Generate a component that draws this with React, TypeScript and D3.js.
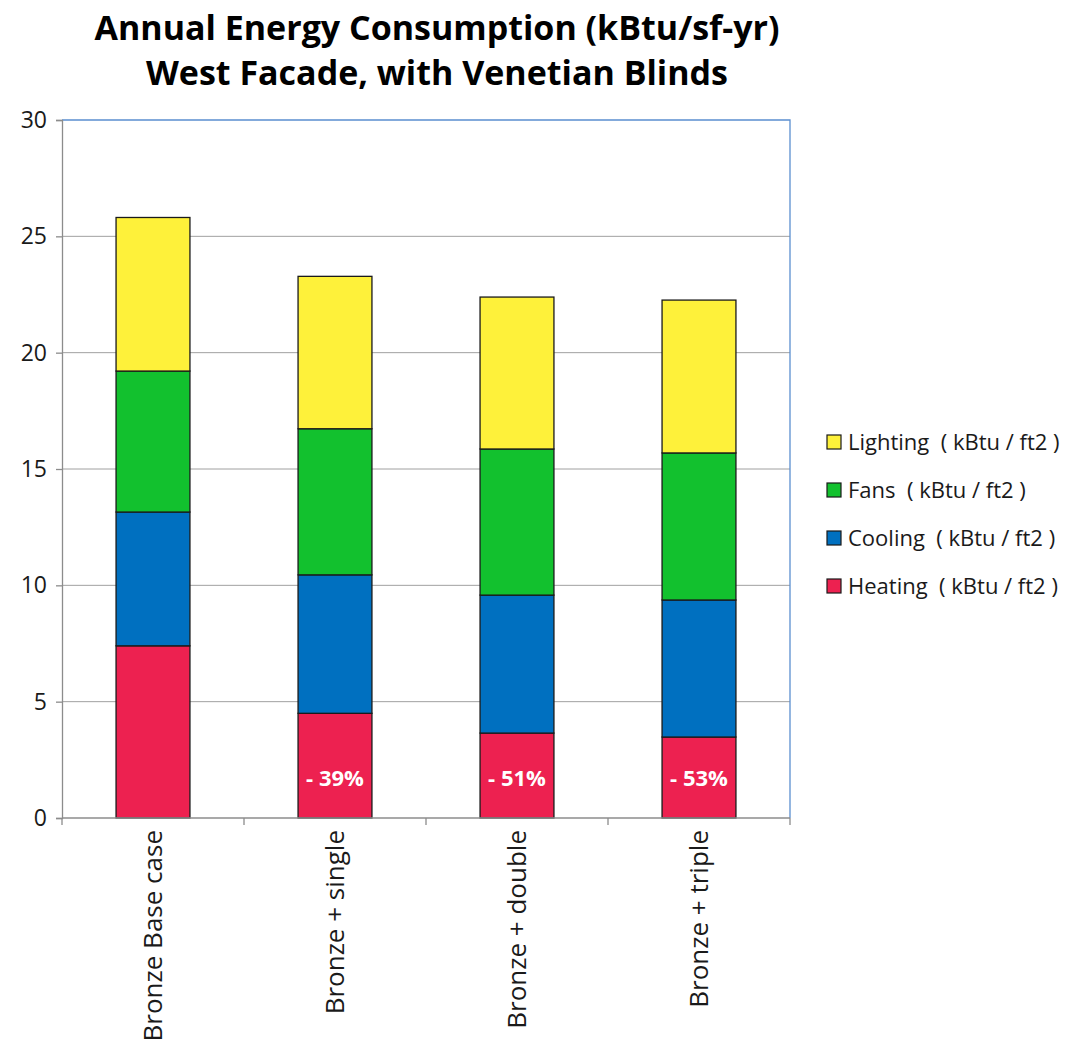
import { useEffect, useRef } from "react";
import * as d3 from "d3";

const categories = ["Bronze Base case", "Bronze + single", "Bronze + double", "Bronze + triple"];
const heating = [7.4, 4.5, 3.65, 3.48];
const cooling = [5.75, 5.95, 5.93, 5.89];
const fans = [6.06, 6.28, 6.28, 6.32];
const lighting = [6.6, 6.55, 6.53, 6.57];
const reductionLabels = ["", "- 39%", "- 51%", "- 53%"];
const yTicks = [0, 5, 10, 15, 20, 25, 30];

const seriesNames = [
  "Heating  ( kBtu / ft2 )",
  "Cooling  ( kBtu / ft2 )",
  "Fans  ( kBtu / ft2 )",
  "Lighting  ( kBtu / ft2 )",
];
const seriesColors = ["#ed2150", "#0070c0", "#12c12e", "#fef13a"];

export default function App() {
  const svgRef = useRef<SVGSVGElement | null>(null);

  useEffect(() => {
    if (!svgRef.current) return;
    const width = 1080;
    const height = 1040;
    const margin = { top: 120, right: 290, bottom: 222, left: 62 };
    const font = "Open Sans, Liberation Sans, sans-serif";

    const svg = d3.select(svgRef.current);
    svg.selectAll("*").remove();

    const rows = categories.map((c, i) => ({
      cat: c,
      s0: heating[i],
      s1: cooling[i],
      s2: fans[i],
      s3: lighting[i],
    }));
    const keys = ["s0", "s1", "s2", "s3"];
    const stacked = d3.stack<any>().keys(keys)(rows);

    const x = d3
      .scaleBand()
      .domain(categories)
      .range([margin.left, width - margin.right])
      .paddingInner(0.594)
      .paddingOuter(0.297);

    const y = d3
      .scaleLinear()
      .domain([0, 30])
      .range([height - margin.bottom, margin.top]);

    // gridlines
    svg
      .append("g")
      .selectAll("line")
      .data(yTicks.filter((t) => t > 0 && t < 30))
      .join("line")
      .attr("x1", margin.left)
      .attr("x2", width - margin.right)
      .attr("y1", (d) => y(d))
      .attr("y2", (d) => y(d))
      .attr("stroke", "#a0a0a0")
      .attr("stroke-width", 1);

    // top and right border
    svg
      .append("path")
      .attr("d", `M${margin.left},${y(30)}H${width - margin.right}V${y(0)}`)
      .attr("fill", "none")
      .attr("stroke", "#5b8fd0")
      .attr("stroke-width", 1.3);

    // bars
    svg
      .append("g")
      .selectAll("g")
      .data(stacked)
      .join("g")
      .attr("fill", (_, i) => seriesColors[i])
      .selectAll("rect")
      .data((d) => d)
      .join("rect")
      .attr("x", (d) => x(d.data.cat)!)
      .attr("width", x.bandwidth())
      .attr("y", (d) => y(d[1]))
      .attr("height", (d) => y(d[0]) - y(d[1]))
      .attr("stroke", "#1a1a1a")
      .attr("stroke-width", 1.3);

    // y axis
    const yAxis = svg
      .append("g")
      .attr("transform", `translate(${margin.left},0)`)
      .call(d3.axisLeft(y).tickValues(yTicks).tickSize(6).tickPadding(9));
    yAxis.select(".domain").attr("stroke", "#8c8c8c").attr("stroke-width", 1.3);
    yAxis.selectAll(".tick line").attr("stroke", "#8c8c8c").attr("stroke-width", 1.3);
    yAxis
      .selectAll("text")
      .attr("font-family", font)
      .attr("font-size", 23)
      .attr("fill", "#1a1a1a");

    // x axis
    const step = x.step();
    const boundaries = d3.range(categories.length + 1).map((i) => margin.left + i * step);
    const xAxis = svg.append("g");
    xAxis
      .append("line")
      .attr("x1", margin.left)
      .attr("x2", width - margin.right)
      .attr("y1", y(0))
      .attr("y2", y(0))
      .attr("stroke", "#8c8c8c")
      .attr("stroke-width", 1.3);
    xAxis
      .selectAll("line.tick")
      .data(boundaries)
      .join("line")
      .attr("class", "tick")
      .attr("x1", (d) => d)
      .attr("x2", (d) => d)
      .attr("y1", y(0))
      .attr("y2", y(0) + 7)
      .attr("stroke", "#8c8c8c")
      .attr("stroke-width", 1.3);
    xAxis
      .selectAll("text")
      .data(categories)
      .join("text")
      .attr(
        "transform",
        (d) => `translate(${x(d)! + x.bandwidth() / 2 + 9},${y(0) + 12}) rotate(-90)`
      )
      .attr("text-anchor", "end")
      .attr("font-family", font)
      .attr("font-size", 26)
      .attr("fill", "#1a1a1a")
      .text((d) => d);

    // reduction labels
    svg
      .append("g")
      .selectAll("text")
      .data(categories)
      .join("text")
      .attr("x", (d) => x(d)! + x.bandwidth() / 2)
      .attr("y", y(1.7))
      .attr("dy", "0.35em")
      .attr("text-anchor", "middle")
      .attr("font-family", font)
      .attr("font-weight", "bold")
      .attr("font-size", 22)
      .attr("fill", "#ffffff")
      .text((_, i) => reductionLabels[i]);

    // title
    const titleLines = ["Annual Energy Consumption (kBtu/sf-yr)", "West Facade, with Venetian Blinds"];
    svg
      .append("g")
      .selectAll("text")
      .data(titleLines)
      .join("text")
      .attr("x", 437)
      .attr("y", (_, i) => 40 + i * 45)
      .attr("text-anchor", "middle")
      .attr("font-family", font)
      .attr("font-weight", "bold")
      .attr("font-size", 34)
      .attr("fill", "#000")
      .text((d) => d);

    // legend
    const legendOrder = [3, 2, 1, 0];
    const legend = svg.append("g").attr("transform", "translate(827,442)");
    legendOrder.forEach((si, i) => {
      const row = legend.append("g").attr("transform", `translate(0,${i * 48})`);
      row
        .append("rect")
        .attr("x", 0)
        .attr("y", -7)
        .attr("width", 14)
        .attr("height", 14)
        .attr("fill", seriesColors[si])
        .attr("stroke", "#1a1a1a")
        .attr("stroke-width", 1.2);
      row
        .append("text")
        .attr("x", 21)
        .attr("y", 0)
        .attr("dy", "0.35em")
        .attr("font-family", font)
        .attr("font-size", 22)
        .attr("fill", "#1a1a1a")
        .style("white-space", "pre")
        .text(seriesNames[si]);
    });
  }, []);

  return (
    <svg
      ref={svgRef}
      width={1080}
      height={1040}
      viewBox="0 0 1080 1040"
      style={{ position: "absolute", left: 0, top: 0, background: "#fff" }}
    ></svg>
  );
}
